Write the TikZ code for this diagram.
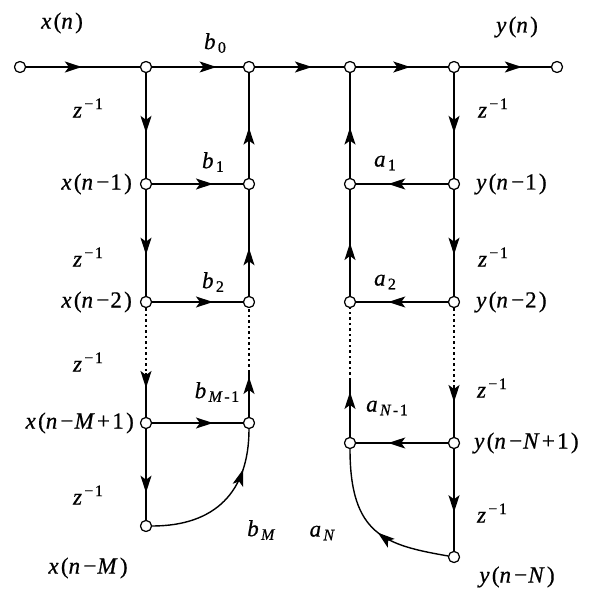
\documentclass[tikz,border=0pt]{standalone}
\usepackage{fontspec}
\setmainfont{Liberation Serif}[LetterSpace=10,FakeBold=0.6]
\usetikzlibrary{arrows.meta,decorations.markings}
\newcommand\V[1]{\textit{#1}}
\newcommand\sbx[1]{\raisebox{-0.35ex}{\fontsize{16}{16}\selectfont #1}}
\newcommand\spx[1]{\raisebox{0.8ex}{\fontsize{16}{16}\selectfont #1}}
\newcommand\mn{\kern1pt−\kern1pt}
\begin{document}
\begin{tikzpicture}[x=1pt,y=-1pt,
  nd/.style={circle,draw,fill=white,line width=1.1pt,minimum size=11pt,inner sep=0pt},
  lb/.style={font=\fontsize{23}{26}\selectfont,inner sep=0pt},
  ln/.style={line width=1.4pt},
  arr/.style={ln,postaction={decorate},decoration={markings,mark=at position #1 with {\arrow{Stealth[length=17pt,width=11pt,inset=4pt]}}}},
  dt/.style={line width=1.7pt,dash pattern=on 2.5pt off 3pt}]
\useasboundingbox (0,0) rectangle (602,599);
% nodes
\node[nd] (in) at (20,67) {};
\node[nd] (A0) at (146,67) {};
\node[nd] (B0) at (249,67) {};
\node[nd] (C0) at (350,67) {};
\node[nd] (D0) at (454,67) {};
\node[nd] (out) at (557,67) {};
\node[nd] (A1) at (146,184) {};
\node[nd] (B1) at (249,184) {};
\node[nd] (C1) at (350,184) {};
\node[nd] (D1) at (454,184) {};
\node[nd] (A2) at (146,302) {};
\node[nd] (B2) at (249,302) {};
\node[nd] (C2) at (350,302) {};
\node[nd] (D2) at (454,302) {};
\node[nd] (AM1) at (146,423) {};
\node[nd] (BM1) at (249,423) {};
\node[nd] (AM) at (146,526) {};
\node[nd] (CN1) at (350,443) {};
\node[nd] (DN1) at (454,443) {};
\node[nd] (DN) at (454,557) {};
\coordinate (pA) at (146,373);
\coordinate (pB) at (249,372);
\coordinate (pC) at (350,380);
\coordinate (pD) at (454,385);
% top line
\draw[arr=0.49] (in) -- (A0);
\draw[arr=0.71] (A0) -- (B0);
\draw[arr=0.64] (B0) -- (C0);
\draw[arr=0.59] (C0) -- (D0);
\draw[arr=0.68] (D0) -- (out);
% left ladder
\draw[arr=0.57] (A0) -- (A1);
\draw[arr=0.61] (A1) -- (A2);
\draw[arr=0.48] (B1) -- (B0);
\draw[arr=0.45] (B2) -- (B1);
\draw[arr=0.67] (A1) -- (B1);
\draw[arr=0.67] (A2) -- (B2);
\draw[arr=0.67] (AM1) -- (BM1);
\draw[dt] (A2) -- (pA);
\draw[arr=15pt] (pA) -- (AM1);
\draw[arr=40pt] (BM1) -- (pB);
\draw[dt] (pB) -- (B2);
\draw[arr=0.70] (AM1) -- (AM);
\draw[arr=0.74] (AM) .. controls (215,526) and (249,492) .. (BM1);
% right ladder
\draw[arr=0.48] (C1) -- (C0);
\draw[arr=0.5] (C2) -- (C1);
\draw[arr=0.57] (D0) -- (D1);
\draw[arr=0.61] (D1) -- (D2);
\draw[arr=0.65] (D1) -- (C1);
\draw[arr=0.65] (D2) -- (C2);
\draw[arr=0.65] (DN1) -- (CN1);
\draw[arr=45pt] (CN1) -- (pC);
\draw[dt] (pC) -- (C2);
\draw[dt] (D2) -- (pD);
\draw[arr=17pt] (pD) -- (DN1);
\draw[arr=0.62] (DN1) -- (DN);
\draw[arr=0.45] (DN) .. controls (385,545) and (350,535) .. (CN1);
% redraw nodes on top
\foreach \n in {in,A0,B0,C0,D0,out,A1,B1,C1,D1,A2,B2,C2,D2,AM1,BM1,AM,CN1,DN1,DN}
  \draw[fill=white,line width=1.1pt] (\n.center) circle (5.5pt);
% labels
\node[lb] (lxn) at (62,23) {\V{x}(\V{n})};
\node[lb] (lb0) at (215,43) {\V{b}\sbx{0}};
\node[lb] (lyn) at (517,27) {\V{y}(\V{n})};
\node[lb] (lz1) at (88,108) {\V{z}\spx{−1}};
\node[lb] (lz2) at (88,257) {\V{z}\spx{−1}};
\node[lb] (lz3) at (88,362) {\V{z}\spx{−1}};
\node[lb] (lz4) at (88,495) {\V{z}\spx{−1}};
\node[lb,anchor=east] (lx1) at (132,184) {\V{x}(\V{n}\mn 1)};
\node[lb,anchor=east] (lx2) at (132,302) {\V{x}(\V{n}\mn 2)};
\node[lb,anchor=east] (lxM1) at (134,423) {\V{x}(\V{n}\mn\V{M}+1)};
\node[lb] (lxM) at (88,568) {\V{x}(\V{n}\mn\V{M})};
\node[lb] (lb1) at (213,162) {\V{b}\sbx{1}};
\node[lb] (lb2) at (213,282) {\V{b}\sbx{2}};
\node[lb] (lbM1) at (217,392) {\V{b}\sbx{\V{M}-1}};
\node[lb] (lbM) at (262,530) {\V{b}\sbx{\V{M}}};
\node[lb] (rz1) at (493,108) {\V{z}\spx{−1}};
\node[lb] (rz2) at (493,257) {\V{z}\spx{−1}};
\node[lb] (rz3) at (492,388) {\V{z}\spx{−1}};
\node[lb] (rz4) at (492,513) {\V{z}\spx{−1}};
\node[lb] (la1) at (385,163) {\V{a}\sbx{1}};
\node[lb] (la2) at (385,282) {\V{a}\sbx{2}};
\node[lb] (laN1) at (387,408) {\V{a}\sbx{\V{N}-1}};
\node[lb] (laN) at (323,533) {\V{a}\sbx{\V{N}}};
\node[lb,anchor=west] (ly1) at (476,184) {\V{y}(\V{n}\mn 1)};
\node[lb,anchor=west] (ly2) at (476,302) {\V{y}(\V{n}\mn 2)};
\node[lb,anchor=west] (lyN1) at (474,443) {\V{y}(\V{n}\mn\V{N}+1)};
\node[lb] (lyN) at (517,577) {\V{y}(\V{n}\mn\V{N})};
\end{tikzpicture}
\end{document}
